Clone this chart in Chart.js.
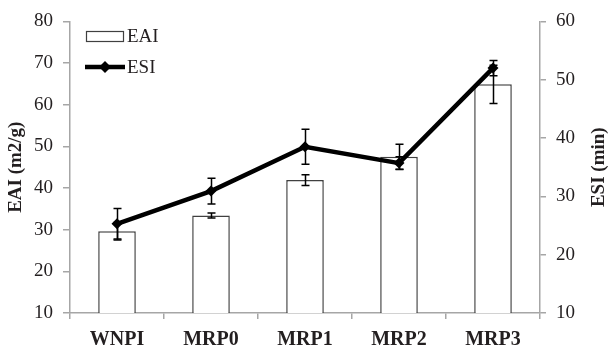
<!DOCTYPE html>
<html><head><meta charset="utf-8">
<script src="https://cdn.jsdelivr.net/npm/chart.js@4/dist/chart.umd.min.js"></script>
<style>html,body{margin:0;padding:0;background:#fff;}#wrap{width:614px;height:345px;position:relative;}</style>
</head><body><div id="wrap"><canvas id="c" width="614" height="345"></canvas></div>
<script>
const categories = ['WNPI', 'MRP0', 'MRP1', 'MRP2', 'MRP3'];
const eaiValues = [29.6, 33.4, 41.9, 47.5, 64.9];
const eaiErrors = [2.1, 0.6, 1.3, 3.0, 4.6];
const esiValues = [25.3, 30.9, 38.5, 35.7, 52.0];
const esiErrors = [2.6, 2.2, 3.0, 1.1, 1.3];
const leftTitle = 'EAI (m2/g)';
const rightTitle = 'ESI (min)';
const seriesNames = ['EAI', 'ESI'];

const AXIS = '#a6a6a6';
const TXT = '#231f20';
const SERIF = '"Liberation Serif", "Times New Roman", serif';

const errorBars = {
  id: 'errorBars',
  afterDatasetsDraw(chart) {
    const ctx = chart.ctx;
    chart.data.datasets.forEach((ds, i) => {
      if (!ds.errors) return;
      const meta = chart.getDatasetMeta(i);
      const ys = chart.scales[ds.yAxisID];
      ctx.save();
      ctx.strokeStyle = '#000';
      ctx.lineWidth = 1.5;
      meta.data.forEach((el, j) => {
        const v = ds.data[j], e = ds.errors[j];
        const x = Math.round(el.x) + 0.5;
        const y1 = ys.getPixelForValue(v + e), y2 = ys.getPixelForValue(v - e);
        ctx.beginPath();
        ctx.moveTo(x, y1); ctx.lineTo(x, y2);
        ctx.moveTo(x - 4, y1); ctx.lineTo(x + 4, y1);
        ctx.moveTo(x - 4, y2); ctx.lineTo(x + 4, y2);
        ctx.stroke();
      });
      ctx.restore();
    });
  }
};

const extras = {
  id: 'extras',
  afterDraw(chart) {
    const ctx = chart.ctx;
    const ca = chart.chartArea;
    const cy = (ca.top + ca.bottom) / 2;
    ctx.save();
    ctx.fillStyle = TXT;
    ctx.font = 'bold 19px ' + SERIF;
    ctx.textAlign = 'center';
    ctx.textBaseline = 'middle';
    ctx.save(); ctx.translate(16, cy); ctx.rotate(-Math.PI / 2); ctx.fillText(leftTitle, 0, 0); ctx.restore();
    ctx.save(); ctx.translate(599, cy); ctx.rotate(-Math.PI / 2); ctx.fillText(rightTitle, 0, 0); ctx.restore();
    // legend
    const lx = ca.left + 16;
    ctx.fillStyle = '#fff';
    ctx.strokeStyle = '#404040';
    ctx.lineWidth = 1.2;
    ctx.fillRect(lx, 31, 37, 10);
    ctx.strokeRect(lx + 0.5, 31.5, 37, 10);
    ctx.strokeStyle = '#000';
    ctx.lineWidth = 4.5;
    ctx.beginPath(); ctx.moveTo(lx - 1, 67); ctx.lineTo(lx + 39, 67); ctx.stroke();
    ctx.fillStyle = '#000';
    ctx.beginPath();
    ctx.moveTo(lx + 19, 61); ctx.lineTo(lx + 25, 67); ctx.lineTo(lx + 19, 73); ctx.lineTo(lx + 13, 67); ctx.closePath(); ctx.fill();
    ctx.fillStyle = TXT;
    ctx.font = '19px ' + SERIF;
    ctx.textAlign = 'left';
    ctx.fillText(chart.data.datasets[0].label, lx + 41, 37);
    ctx.fillText(chart.data.datasets[1].label, lx + 41, 68);
    ctx.restore();
  }
};

new Chart(document.getElementById('c'), {
  type: 'bar',
  data: {
    labels: categories,
    datasets: [
      {
        type: 'bar', label: seriesNames[0], data: eaiValues, errors: eaiErrors, yAxisID: 'y',
        backgroundColor: '#ffffff', borderColor: '#404040', borderWidth: 1.5,
        barPercentage: 0.4, categoryPercentage: 1.0, order: 2
      },
      {
        type: 'line', label: seriesNames[1], data: esiValues, errors: esiErrors, yAxisID: 'y1',
        borderColor: '#000', borderWidth: 4.5, backgroundColor: '#000',
        pointStyle: 'rectRot', pointRadius: 5.5, pointBorderWidth: 0, tension: 0, order: 1
      }
    ]
  },
  options: {
    responsive: false, animation: false, devicePixelRatio: 1,
    layout: { padding: { top: 19, left: 0, right: 0, bottom: 0 } },
    plugins: { legend: { display: false }, tooltip: { enabled: false } },
    scales: {
      x: {
        offset: true,
        grid: { offset: true, drawOnChartArea: false, color: AXIS, tickLength: 6, lineWidth: 1.5 },
        border: { color: AXIS, width: 1.5 },
        ticks: { color: TXT, font: { family: SERIF, size: 20, weight: 'bold' }, padding: 9, maxRotation: 0 },
        afterFit(s) { s.height = 32; }
      },
      y: {
        position: 'left', min: 10, max: 80,
        ticks: { stepSize: 10, color: TXT, font: { family: SERIF, size: 19 }, padding: 10 },
        grid: { drawOnChartArea: false, color: AXIS, tickLength: 7, lineWidth: 1.5 },
        border: { color: AXIS, width: 1.5 },
        afterFit(s) { s.width = 70; }
      },
      y1: {
        position: 'right', min: 10, max: 60,
        ticks: { stepSize: 10, color: TXT, font: { family: SERIF, size: 19 }, padding: 10 },
        grid: { drawOnChartArea: false, color: AXIS, tickLength: 6, lineWidth: 1.5 },
        border: { color: AXIS, width: 1.5 },
        afterFit(s) { s.width = 74; }
      }
    }
  },
  plugins: [errorBars, extras]
});
</script></body></html>
